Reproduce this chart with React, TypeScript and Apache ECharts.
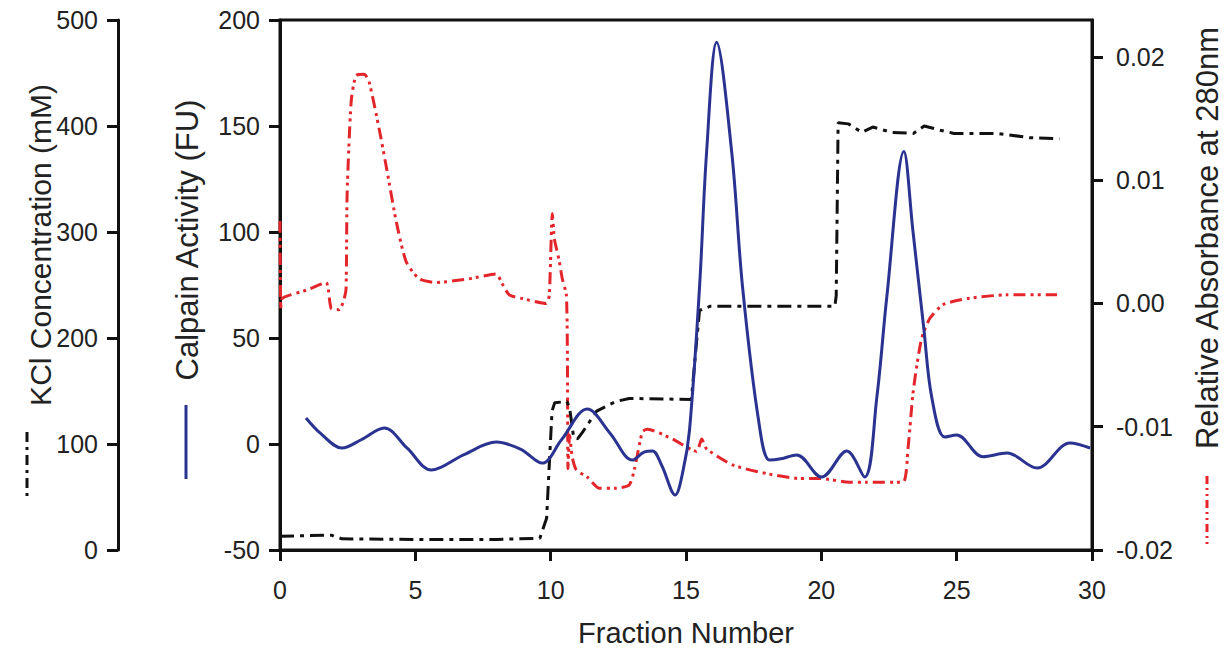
import React, { useEffect, useRef } from "react";
import * as echarts from "echarts";

// Fraction number (x) vs. calpain activity (FU)
const calpainData: [number, number][] = [
  [0.96, 12.3], [1.5, 5], [2.29, -1.9], [3.0, 2], [3.85, 7.6], [4.7, -2], [5.59, -12.3],
  [6.8, -5], [7.99, 0.9], [8.9, -2.5], [9.69, -9], [10.4, 2], [11.35, 16.5], [12.2, 5],
  [13.02, -7.6], [13.45, -3.8], [13.76, -3.3], [14.1, -10], [14.6, -24], [14.9, -12],
  [15.13, 6.6], [15.5, 74], [15.76, 137.5], [16.13, 189.5], [16.69, 137.5], [17.09, 74],
  [17.68, 11.3], [18.09, -7.6], [18.5, -7], [19.09, -5.2], [20.01, -15.6], [20.94, -3.3],
  [21.6, -15.6], [22.05, 22], [22.42, 69.5], [23.05, 138], [23.38, 101], [23.79, 54],
  [24.08, 22], [24.56, 3.3], [25.0, 4.3], [25.97, -6], [26.86, -4.3], [27.97, -11.3],
  [29.19, 0.5], [29.93, -1.9],
];

// Fraction number vs. KCl concentration (mM)
const kclData: [number, number][] = [
  [0, 13], [1.9, 14], [2.1, 12], [2.3, 10.5], [5, 10], [8, 10], [9.6, 11], [9.85, 30],
  [9.95, 81], [10.05, 131], [10.15, 139], [10.6, 140], [10.7, 134], [10.85, 106], [11.0, 105],
  [11.2, 112], [11.7, 131], [12.4, 140], [12.9, 143], [15.2, 142], [15.35, 185], [15.5, 226],
  [15.9, 230], [20.5, 230], [20.55, 240], [20.62, 403], [21.0, 402], [21.5, 394], [21.9, 399],
  [22.6, 394], [23.4, 393], [23.8, 400], [24.4, 396], [24.9, 393], [26.5, 393], [27.7, 389],
  [28.8, 388],
];

// Fraction number vs. relative absorbance at 280 nm
const absData: [number, number][] = [
  [0, 0.0067], [0.03, -0.0004], [0.07, 0.0004], [1.0, 0.0011], [1.7, 0.0017], [1.89, -0.0004],
  [2.18, -0.0005], [2.35, 0.0002], [2.44, 0.0012], [2.48, 0.0089], [2.63, 0.0164],
  [2.81, 0.0185], [3.11, 0.0186], [3.29, 0.018], [3.66, 0.0142], [3.96, 0.0107],
  [4.29, 0.0067], [4.66, 0.0034], [5.14, 0.002], [5.77, 0.0017], [6.99, 0.002],
  [7.99, 0.0024], [8.21, 0.0016], [8.47, 0.0007], [8.95, 0.0004], [9.84, 0], [9.95, 0.0007],
  [10.06, 0.0073], [10.14, 0.0052], [10.21, 0.0045], [10.32, 0.0034], [10.43, 0.002],
  [10.58, 0.0007], [10.62, -0.0047], [10.64, -0.0134], [10.7, -0.0107], [10.8, -0.0125],
  [10.95, -0.0135], [11.36, -0.0141], [11.8, -0.015], [12.43, -0.015], [12.91, -0.0147],
  [13.1, -0.0134], [13.39, -0.0104], [13.58, -0.0102], [14.5, -0.011], [15.39, -0.012],
  [15.58, -0.011], [15.76, -0.0118], [16.72, -0.0131], [17.98, -0.0138], [19.2, -0.0142],
  [19.94, -0.0142], [21.05, -0.0145], [21.68, -0.0145], [23.01, -0.0145], [23.2, -0.0118],
  [23.38, -0.0074], [23.53, -0.005], [23.71, -0.0028], [24.01, -0.0012], [24.49, -0.0001],
  [25.38, 0.0004], [26.86, 0.0007], [28.71, 0.0007],
];

const absTicks = [-0.02, -0.01, 0, 0.01, 0.02];

const FONT = "'Liberation Sans', Arial, sans-serif";
const TXT = "#222";
const AX = "#111";

export default function App() {
  const ref = useRef<HTMLDivElement>(null);
  useEffect(() => {
    if (!ref.current) return;
    const chart = echarts.init(ref.current, null, { renderer: "svg" });
    const axisCommon = {
      axisLine: { show: true, onZero: false, lineStyle: { color: AX, width: 3 } },
      axisTick: { show: true, inside: false, length: 11, lineStyle: { color: AX, width: 3 } },
      splitLine: { show: false },
    };
    chart.setOption({
      animation: false,
      backgroundColor: "#fff",
      textStyle: { fontFamily: FONT },
      grid: {
        left: 280, right: 138, top: 20, bottom: 111,
        show: true, borderColor: AX, borderWidth: 3, backgroundColor: "transparent",
      },
      xAxis: {
        type: "value", min: 0, max: 30, interval: 5, position: "bottom",
        ...axisCommon,
        axisLabel: { fontSize: 25, color: TXT, margin: 27, fontFamily: FONT },
        name: "Fraction Number", nameLocation: "middle", nameGap: 68,
        nameTextStyle: { fontSize: 29, color: TXT, fontFamily: FONT },
      },
      yAxis: [
        {
          type: "value", min: -50, max: 200, interval: 50, position: "left",
          ...axisCommon,
          axisLabel: { fontSize: 25, color: TXT, margin: 20, fontFamily: FONT },
        },
        {
          type: "value", min: 0, max: 500, interval: 100, position: "left", offset: 162,
          ...axisCommon,
          axisLabel: { fontSize: 25, color: TXT, margin: 20, fontFamily: FONT },
        },
        {
          type: "value", min: -0.02, max: 0.023, interval: 0.01, position: "right",
          ...axisCommon,
          axisTick: { show: true, inside: false, length: 11, lineStyle: { color: AX, width: 3 }, customValues: absTicks },
          axisLabel: {
            fontSize: 25, color: TXT, margin: 24, fontFamily: FONT, customValues: absTicks,
            formatter: (v: number) => (Math.abs(v) < 1e-9 ? "0.00" : v.toFixed(2)),
          },
        },
      ],
      series: [
        {
          name: "Relative Absorbance at 280nm", type: "line", yAxisIndex: 2, data: absData,
          symbol: "none", smooth: 0.2,
          lineStyle: { color: "#e3262b", width: 3, type: [12, 5, 3, 4, 3, 5] },
        },
        {
          name: "KCl Concentration (mM)", type: "line", yAxisIndex: 1, data: kclData,
          symbol: "none", smooth: false,
          lineStyle: { color: "#111", width: 3, type: [14, 6, 4, 6] },
        },
        {
          name: "Calpain Activity (FU)", type: "line", yAxisIndex: 0, data: calpainData,
          symbol: "none", smooth: 0.35,
          lineStyle: { color: "#2b3391", width: 3 },
        },
      ],
      graphic: [
        {
          type: "text", x: 40, y: 245, rotation: Math.PI / 2,
          style: { text: "KCl Concentration (mM)", fontSize: 30, fontFamily: FONT, fill: TXT,
            align: "center", verticalAlign: "middle", textAlign: "center", textVerticalAlign: "middle" },
        },
        {
          type: "line", shape: { x1: 27, y1: 432, x2: 27, y2: 500 },
          style: { stroke: "#111", lineWidth: 3, lineDash: [10, 5, 3, 5] },
        },
        {
          type: "text", x: 187, y: 240, rotation: Math.PI / 2,
          style: { text: "Calpain Activity (FU)", fontSize: 31, fontFamily: FONT, fill: TXT,
            align: "center", verticalAlign: "middle", textAlign: "center", textVerticalAlign: "middle" },
        },
        {
          type: "line", shape: { x1: 186, y1: 405, x2: 186, y2: 479 },
          style: { stroke: "#2b3391", lineWidth: 3 },
        },
        {
          type: "text", x: 1207, y: 238, rotation: Math.PI / 2,
          style: { text: "Relative Absorbance at 280nm", fontSize: 31, fontFamily: FONT, fill: TXT,
            align: "center", verticalAlign: "middle", textAlign: "center", textVerticalAlign: "middle" },
        },
        {
          type: "line", shape: { x1: 1207, y1: 476, x2: 1207, y2: 545 },
          style: { stroke: "#e3262b", lineWidth: 3, lineDash: [8, 4, 2, 4, 2, 4] },
        },
      ],
    });
    return () => chart.dispose();
  }, []);
  return (
    <div
      ref={ref}
      style={{ position: "absolute", left: 0, top: 0, width: 1230, height: 661, background: "#fff" }}
    />
  );
}
